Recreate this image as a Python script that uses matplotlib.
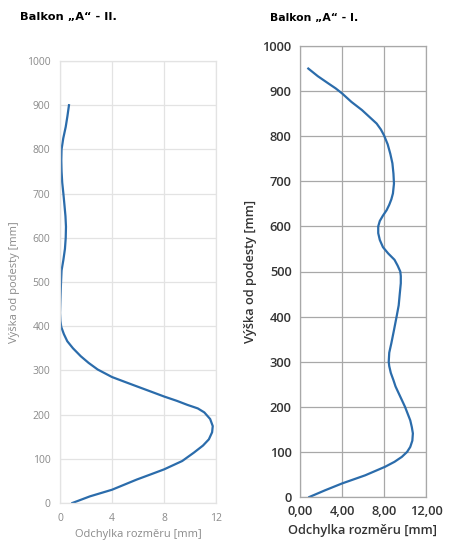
import matplotlib
matplotlib.use("Agg")
import matplotlib.pyplot as plt

# Balkon "A" - II. (left)
h_ii = [0, 15, 30, 53, 65, 76, 95, 114, 130, 144, 160, 174, 190, 205, 214, 222,
        231, 241, 252, 264, 275, 285, 302, 317, 332, 350, 366, 382, 398, 412,
        430, 460, 500, 526, 550, 575, 600, 625, 649, 675, 700, 725, 750, 775,
        800, 825, 851, 875, 900]
dev_ii = [0.95, 2.3, 4.0, 5.9, 7.0, 8.0, 9.4, 10.3, 11.0, 11.45, 11.7, 11.75,
          11.55, 11.1, 10.6, 9.8, 9.0, 8.0, 7.0, 5.9, 4.9, 4.0, 2.9, 2.2, 1.6,
          1.0, 0.56, 0.3, 0.1, 0.03, 0.0, 0.03, 0.08, 0.12, 0.26, 0.38, 0.44,
          0.46, 0.42, 0.34, 0.26, 0.17, 0.12, 0.1, 0.12, 0.25, 0.44, 0.57, 0.69]

# Balkon "A" - I. (right)
h_i = [0, 15, 30, 48, 58, 67, 78, 89, 100, 111, 125, 141, 155, 170, 185, 200,
       215, 230, 245, 259, 275, 290, 300, 320, 341, 370, 400, 425, 450, 474,
       490, 500, 513, 526, 540, 554, 570, 585, 600, 612, 624, 636, 648, 660,
       673, 695, 717, 740, 761, 782, 802, 815, 828, 843, 858, 876, 895, 906,
       917, 933, 950]
dev_i = [0.89, 2.4, 4.0, 6.2, 7.2, 8.1, 9.0, 9.7, 10.2, 10.5, 10.7, 10.75,
         10.65, 10.5, 10.25, 10.0, 9.7, 9.4, 9.1, 8.9, 8.65, 8.5, 8.45, 8.5,
         8.7, 8.95, 9.2, 9.4, 9.5, 9.6, 9.6, 9.55, 9.3, 9.0, 8.4, 7.9, 7.6,
         7.45, 7.45, 7.6, 7.9, 8.25, 8.5, 8.7, 8.85, 8.95, 8.9, 8.8, 8.6, 8.35,
         8.0, 7.7, 7.3, 6.6, 5.9, 4.9, 4.0, 3.4, 2.7, 1.7, 0.79]

x_ticks = [0, 4, 8, 12]
x_labels_i = ["0,00", "4,00", "8,00", "12,00"]
y_ticks = list(range(0, 1001, 100))

blue = "#2b6cab"
plt.rcParams["font.family"] = ["Open Sans", "DejaVu Sans"]

fig = plt.figure(figsize=(4.5, 5.45), dpi=100)

# left chart - light Excel style
ax1 = fig.add_axes([60 / 450, 1 - 503 / 545, 156 / 450, 442 / 545])
ax1.plot(dev_ii, h_ii, color=blue, lw=1.6, solid_joinstyle="round")
ax1.set_xlim(0, 12)
ax1.set_ylim(0, 1000)
ax1.set_xticks(x_ticks)
ax1.set_yticks(y_ticks)
ax1.grid(True, color="#e3e3e3", lw=0.9)
ax1.set_axisbelow(True)
for s in ax1.spines.values():
    s.set_color("#e3e3e3")
    s.set_linewidth(0.9)
ax1.tick_params(length=0, labelsize=7.5, labelcolor="#8a8a8a", pad=7)
ax1.set_xlabel("Odchylka rozměru [mm]", fontsize=8, color="#8a8a8a", labelpad=4)
ax1.set_ylabel("Výška od podesty [mm]", fontsize=8, color="#8a8a8a", labelpad=5)
fig.text(20 / 450, 1 - 17 / 545, "Balkon „A“ - II.", fontsize=8.2,
         fontweight="heavy", family="DejaVu Sans", va="center", ha="left")

# right chart - darker style
ax2 = fig.add_axes([300 / 450, 1 - 497 / 545, 126 / 450, 451 / 545])
ax2.plot(dev_i, h_i, color=blue, lw=1.6, solid_joinstyle="round")
ax2.set_xlim(0, 12)
ax2.set_ylim(0, 1000)
ax2.set_xticks(x_ticks)
ax2.set_xticklabels(x_labels_i)
ax2.set_yticks(y_ticks)
ax2.grid(True, color="#a8a8a8", lw=0.9)
ax2.set_axisbelow(True)
for s in ax2.spines.values():
    s.set_color("#a8a8a8")
    s.set_linewidth(0.9)
ax2.tick_params(length=0, labelsize=9.3, labelcolor="#333333", pad=6)
for lab in ax2.get_xticklabels() + ax2.get_yticklabels():
    lab.set_fontweight("semibold")
ax2.set_xlabel("Odchylka rozměru [mm]", fontsize=9.2, color="#333333",
               labelpad=4, fontweight="semibold")
ax2.set_ylabel("Výška od podesty [mm]", fontsize=9.2, color="#333333",
               labelpad=4, fontweight="semibold")
fig.text(270 / 450, 1 - 18 / 545, "Balkon „A“ - I.", fontsize=7.8,
         fontweight="heavy", family="DejaVu Sans", va="center", ha="left")

fig.savefig("out.png", dpi=100)
